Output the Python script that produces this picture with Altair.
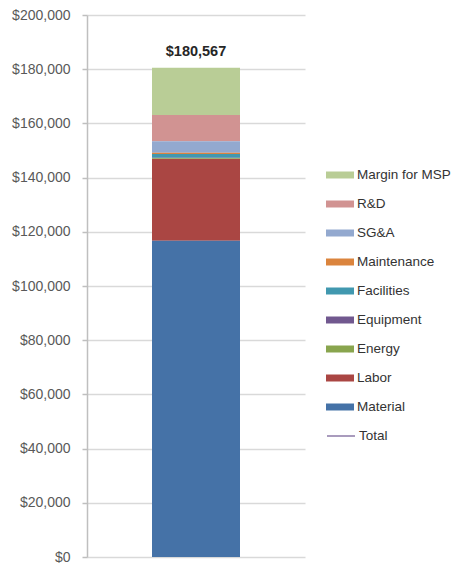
import altair as alt
import pandas as pd

# ---- data ----
categories = ["Margin for MSP", "R&D", "SG&A", "Maintenance", "Facilities",
              "Equipment", "Energy", "Labor", "Material"]
values = [17467, 9700, 4200, 500, 1400, 200, 200, 30200, 116700]
colors = ["#B9CD96", "#D19392", "#93A9CF", "#DB843D", "#4198AF",
          "#71588F", "#89A54E", "#AA4643", "#4572A7"]
stack_order = [8, 7, 6, 5, 4, 3, 2, 1, 0]   # Material at the bottom
total_series = ["Total"]
total_value = [180567]
total_label = ["$180,567"]
y_ticks = [0, 20000, 40000, 60000, 80000, 100000, 120000, 140000, 160000, 180000, 200000]

df = pd.DataFrame({
    "group": ["Cost"] * len(categories),
    "component": categories,
    "value": values,
    "order": stack_order,
})
tot = pd.DataFrame({
    "group": ["Cost"],
    "series": total_series,
    "value": total_value,
    "label": total_label,
})

FONT = "Liberation Sans"

x_enc = alt.X("group:N", axis=None,
              scale=alt.Scale(paddingInner=0, paddingOuter=0))

bars = alt.Chart(df).mark_bar(size=88).encode(
    x=x_enc,
    y=alt.Y("value:Q", stack="zero",
            scale=alt.Scale(domain=[0, 200000], nice=False),
            axis=alt.Axis(values=y_ticks, format="$,.0f", title=None,
                          grid=True, gridColor="#D9D9D9", gridWidth=1.5,
                          domainColor="#BFBFBF", domainWidth=1.5,
                          tickColor="#BFBFBF", tickSize=5, tickWidth=1.5,
                          labelFont=FONT, labelFontSize=14,
                          labelColor="#595959", labelPadding=12)),
    color=alt.Color("component:N",
                    scale=alt.Scale(domain=categories, range=colors),
                    legend=alt.Legend(orient="none", legendX=239, legendY=146,
                                      title=None, padding=0,
                                      symbolType="M-1,-0.25L1,-0.25L1,0.25L-1,0.25Z",
                                      symbolSize=784, symbolStrokeWidth=0,
                                      symbolOpacity=1,
                                      labelFont=FONT, labelFontSize=13.5,
                                      labelColor="#333333", labelOffset=3,
                                      rowPadding=8)),
    order=alt.Order("order:Q", sort="ascending"),
)

line = alt.Chart(tot).mark_line(strokeWidth=2).encode(
    x=x_enc,
    y=alt.Y("value:Q"),
    stroke=alt.Stroke("series:N",
                      scale=alt.Scale(domain=total_series, range=["#A99BBD"]),
                      legend=alt.Legend(orient="none", legendX=239, legendY=406,
                                        title=None, padding=0,
                                        symbolType="stroke", symbolSize=784,
                                        symbolStrokeWidth=2,
                                        labelFont=FONT, labelFontSize=13.5,
                                        labelColor="#333333", labelOffset=3)),
)

text = alt.Chart(tot).mark_text(font=FONT, fontSize=14.5, fontWeight="bold",
                                baseline="bottom", dy=-9, color="#262626").encode(
    x=x_enc,
    y=alt.Y("value:Q"),
    text="label:N",
)

chart = alt.layer(bars, line, text).properties(
    width=218, height=542,
    autosize=alt.AutoSizeParams(type="none"),
    padding={"left": 79, "top": 7, "right": 147, "bottom": 6},
).configure_view(stroke=None).resolve_scale(color="independent")

chart.save("out.html", embed_options={"renderer": "svg", "actions": False})
